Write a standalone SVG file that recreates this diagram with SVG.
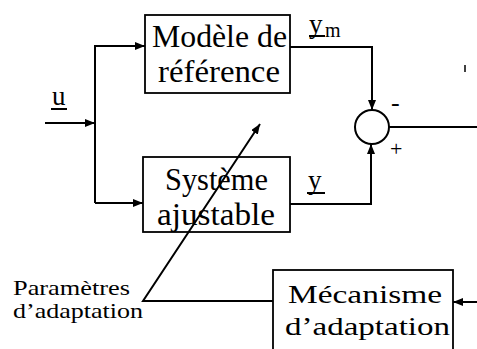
<svg xmlns="http://www.w3.org/2000/svg" width="477" height="349" viewBox="0 0 477 349">
<style>
.box{fill:#fff;stroke:#000;stroke-width:1.8}
.ln{fill:none;stroke:#000;stroke-width:2}
.t{font-family:"Liberation Serif","Times New Roman",serif;fill:#000}
.big{font-size:31px}
.lbl{font-size:27px}
</style>
<defs>
<marker id="ah" viewBox="0 0 10 8" refX="10" refY="4" markerWidth="10" markerHeight="8" markerUnits="userSpaceOnUse" orient="auto">
<path d="M0,0 L10,4 L0,8 Z" fill="#000"/>
</marker>
</defs>
<rect width="477" height="349" fill="#fff"/>
<g id="modele">
<rect class="box" x="145" y="15" width="145" height="78"/>
<text class="t big" x="152" y="47" textLength="135" lengthAdjust="spacingAndGlyphs">Modèle de</text>
<text class="t big" x="158" y="82" textLength="122" lengthAdjust="spacingAndGlyphs">référence</text>
</g>
<g id="systeme">
<rect class="box" x="143" y="157" width="147" height="75"/>
<text class="t big" x="165" y="190" textLength="103" lengthAdjust="spacingAndGlyphs">Système</text>
<text class="t big" x="157" y="225" textLength="118" lengthAdjust="spacingAndGlyphs">ajustable</text>
</g>
<g id="comparateur">
<circle cx="372" cy="127" r="17" fill="#fff" stroke="#000" stroke-width="2"/>
<text class="t" x="391" y="111" font-size="26">-</text>
<text class="t" x="390" y="156" font-size="22">+</text>
</g>
<g id="mecanisme">
<rect class="box" x="273" y="270" width="180" height="95"/>
<text class="t" font-size="26" x="288" y="303" textLength="154" lengthAdjust="spacingAndGlyphs">Mécanisme</text>
<text class="t" font-size="26" x="285" y="335" textLength="165" lengthAdjust="spacingAndGlyphs">d’adaptation</text>
</g>
<g id="labels">
<text class="t lbl" x="52" y="105">u</text>
<line x1="51" y1="109" x2="67" y2="109" stroke="#000" stroke-width="2"/>
<text class="t lbl" x="309" y="33">y</text>
<line x1="309" y1="36" x2="325" y2="36" stroke="#000" stroke-width="2"/>
<text class="t" font-size="20" x="325" y="37">m</text>
<text class="t lbl" x="308" y="189">y</text>
<line x1="307" y1="193" x2="325" y2="193" stroke="#000" stroke-width="2"/>
<text class="t" font-size="21" x="13" y="295" textLength="117" lengthAdjust="spacingAndGlyphs">Paramètres</text>
<text class="t" font-size="21" x="13" y="318" textLength="130" lengthAdjust="spacingAndGlyphs">d’adaptation</text>
</g>
<g id="connectors">
<path class="ln" d="M45,123 H95" marker-end="url(#ah)"/>
<path class="ln" d="M95,45 V203"/>
<path class="ln" d="M95,46 H145" marker-end="url(#ah)"/>
<path class="ln" d="M95,203 H143" marker-end="url(#ah)"/>
<path class="ln" d="M290,47 H372 V110" marker-end="url(#ah)"/>
<path class="ln" d="M290,204 H371 V144" marker-end="url(#ah)"/>
<path class="ln" d="M389,127 H477"/>
<path class="ln" d="M477,302 H453" marker-end="url(#ah)"/>
<path class="ln" d="M273,301 H143 L260,124" marker-end="url(#ah)"/>
<line x1="465" y1="65" x2="465" y2="72" stroke="#000" stroke-width="1.5"/>
</g>
</svg>
